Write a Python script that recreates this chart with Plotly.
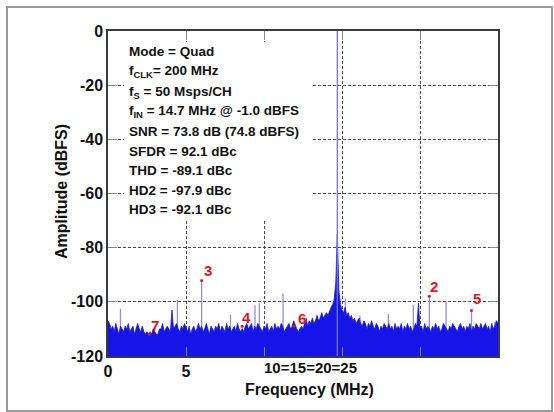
import plotly.graph_objects as go

# ---------------- data ----------------
FREQ_STEP_MHZ = 0.1
noise_db = [
    -107, -108, -110, -109, -111, -108, -110, -112, -109, -110,
    -111, -109, -110, -108, -111, -110, -109, -112, -110, -108,
    -110, -111, -109, -111, -112, -111, -112, -111, -112, -110,
    -111, -112, -112, -110, -110, -108, -111, -110, -109, -110,
    -111, -103, -110, -109, -108, -110, -111, -109, -110, -108,
    -110, -111, -109, -112, -110, -109, -111, -110, -108, -110,
    -109, -111, -110, -108, -110, -112, -109, -110, -111, -109,
    -110, -108, -111, -109, -110, -111, -108, -110, -109, -111,
    -110, -109, -111, -108, -110, -111, -110, -111, -109, -108,
    -110, -109, -108, -111, -109, -110, -108, -109, -110, -111,
    -109, -110, -108, -111, -110, -109, -111, -108, -110, -109,
    -110, -108, -109, -111, -110, -109, -108, -110, -109, -107,
    -109, -110, -111, -110, -109, -110, -108, -106, -109, -107,
    -108, -106, -108, -107, -105, -107, -106, -104, -106, -105,
    -104, -105, -103, -102, -101, -99, -93, -75, -96, -101,
    -103, -104, -102, -105, -104, -106, -105, -107, -106, -108,
    -107, -106, -108, -109, -107, -108, -110, -108, -109, -107,
    -109, -110, -108, -109, -111, -109, -110, -108, -109, -110,
    -108, -110, -109, -111, -108, -110, -109, -110, -108, -111,
    -109, -110, -108, -110, -109, -111, -110, -108, -109, -100.5,
    -110, -109, -111, -108, -110, -109, -110, -111, -109, -110,
    -108, -110, -109, -111, -110, -108, -109, -110, -111, -109,
    -110, -108, -109, -110, -111, -109, -108, -110, -109, -111,
    -109, -110, -108, -111, -109, -110, -108, -109, -110, -108,
    -110, -109, -108, -110, -109, -111, -108, -110, -109, -107,
    -108,
]
freq_mhz = [round(i * FREQ_STEP_MHZ, 2) for i in range(len(noise_db))]

spur_freq = [0.8, 4.45, 7.85, 9.42, 9.7, 11.22, 15.22, 16.15, 17.97, 19.57, 21.67, 24.8]
spur_db = [-102.5, -99.3, -104.7, -101.3, -100.5, -96.9, -98.8, -105.0, -104.5, -101.3, -100.0, -107.3]

fund_freq = 14.7
fund_db = 0.0

harm_names = ["2", "3", "4", "5", "6", "7"]
harm_freq = [20.6, 6.0, 8.6, 23.3, 11.9, 2.65]
harm_db = [-97.9, -92.1, -109.0, -103.2, -109.0, -112.0]

info_lines = [
    "Mode = Quad",
    "f<sub>CLK</sub>= 200 MHz",
    "f<sub>S</sub> = 50 Msps/CH",
    "f<sub>IN</sub> = 14.7 MHz @ -1.0 dBFS",
    "SNR = 73.8 dB (74.8 dBFS)",
    "SFDR = 92.1 dBc",
    "THD = -89.1 dBc",
    "HD2 = -97.9 dBc",
    "HD3 = -92.1 dBc",
]

y_ticks = [0, -20, -40, -60, -80, -100, -120]
y_ticktext = ["0", "-20", "-40", "-60", "-80", "-100", "-120"]
x_labeled_ticks = [0, 5]
x_ticktext = ["0", "5"]
x_unlabeled_ticks = [10, 15, 20]
x_label_garbled = "10=15=20=25"

X_MIN, X_MAX = 0, 25
Y_MIN, Y_MAX = -120, 0

# ---------------- geometry ----------------
W, H = 554, 412
L, R, T, B = 108, 498, 31, 356


def px_x(px):
    return X_MIN + (px - L) / (R - L) * (X_MAX - X_MIN)


def px_y(py):
    return Y_MAX - (py - T) / (B - T) * (Y_MAX - Y_MIN)


def paper_x(px):
    return (px - L) / (R - L)


def paper_y(py):
    return 1 - (py - T) / (B - T)


FONT = "Liberation Sans, Arial, sans-serif"
BLUE = "#1515e8"
SPUR = "#8f8fdc"
RED = "#e3151b"
GRID = "#4a4a4a"
GRID_DASH = "3px,2px"

fig = go.Figure()

# spurs and harmonics as stems
sx, sy = [], []
for f, d in zip(spur_freq, spur_db):
    sx += [f, f, None]
    sy += [Y_MIN, d, None]
for f, d in zip(harm_freq, harm_db):
    sx += [f, f, None]
    sy += [Y_MIN, d, None]
fig.add_trace(go.Scatter(x=sx, y=sy, mode="lines", line=dict(color=SPUR, width=1.3),
                         hoverinfo="skip", showlegend=False))

# noise floor (filled down to the axis floor)
fig.add_trace(go.Scatter(x=freq_mhz, y=[Y_MIN] * len(freq_mhz), mode="lines",
                         line=dict(width=0, color=BLUE), hoverinfo="skip", showlegend=False))
fig.add_trace(go.Scatter(x=freq_mhz, y=noise_db, mode="lines", fill="tonexty",
                         fillcolor=BLUE, line=dict(color=BLUE, width=0.8),
                         showlegend=False))

fig.add_trace(go.Scatter(x=[fund_freq, fund_freq], y=[Y_MIN, fund_db], mode="lines",
                         line=dict(color="#7474d8", width=1.3), showlegend=False))

# red markers at harmonic tops
fig.add_trace(go.Scatter(x=harm_freq, y=harm_db, mode="markers",
                         marker=dict(color=RED, size=3), showlegend=False))

shapes = []
# white box behind the info text
shapes.append(dict(type="rect", xref="paper", yref="paper", layer="above",
                   x0=paper_x(124), x1=paper_x(313), y0=paper_y(220), y1=paper_y(42),
                   fillcolor="white", line=dict(width=0)))
# outer frame
shapes.append(dict(type="rect", xref="paper", yref="paper", layer="above",
                   x0=paper_x(7), x1=paper_x(552), y0=paper_y(411), y1=paper_y(7),
                   line=dict(color="#9a9a9a", width=2), fillcolor="rgba(0,0,0,0)"))

annotations = []
line_y = [51.5, 71.5, 92, 111, 131.5, 151, 170.5, 190, 209.5]
for txt, py in zip(info_lines, line_y):
    annotations.append(dict(text=txt, xref="paper", yref="paper", x=paper_x(127), y=paper_y(py),
                            xanchor="left", yanchor="middle", showarrow=False,
                            font=dict(family=FONT, size=13.5, color="#111", weight="bold")))

label_px = {"3": (208, 270), "2": (434, 286), "5": (477, 298),
            "7": (155, 325), "4": (246, 317), "6": (302, 318)}
for name in harm_names:
    px, py = label_px[name]
    annotations.append(dict(text=name, x=px_x(px), y=px_y(py), xref="x", yref="y",
                            showarrow=False, xanchor="center", yanchor="middle",
                            font=dict(family=FONT, size=15, color=RED, weight="bold")))

annotations.append(dict(text=x_label_garbled, xref="paper", yref="paper", x=paper_x(310),
                        y=paper_y(367), xanchor="center", yanchor="middle", showarrow=False,
                        font=dict(family=FONT, size=15, color="#111", weight="bold")))
annotations.append(dict(text="Frequency (MHz)", xref="paper", yref="paper", x=paper_x(309),
                        y=paper_y(389), xanchor="center", yanchor="middle", showarrow=False,
                        font=dict(family=FONT, size=16, color="#111", weight="bold")))
annotations.append(dict(text="Amplitude (dBFS)", xref="paper", yref="paper", x=paper_x(62),
                        y=paper_y(192), xanchor="center", yanchor="middle", showarrow=False,
                        textangle=-90,
                        font=dict(family=FONT, size=16, color="#111", weight="bold")))

axis_common = dict(showline=True, linecolor="#3a3a3a", linewidth=1.5, mirror="ticks",
                   showgrid=True, gridcolor=GRID, gridwidth=1, griddash=GRID_DASH,
                   zeroline=False, ticks="inside", ticklen=9, tickcolor="#888888",
                   tickfont=dict(family=FONT, size=16, color="#111", weight="bold"))

fig.update_layout(
    width=W, height=H,
    margin=dict(l=L, r=W - R, t=T, b=H - B, pad=0),
    paper_bgcolor="white", plot_bgcolor="white",
    xaxis=dict(range=[X_MIN, X_MAX], tickmode="array", tickvals=x_labeled_ticks,
               ticktext=x_ticktext,
               minor=dict(tickmode="array", tickvals=x_unlabeled_ticks, showgrid=True,
                          gridcolor=GRID, gridwidth=1, griddash=GRID_DASH,
                          ticks="inside", ticklen=9, tickcolor="#888888"),
               **axis_common),
    yaxis=dict(range=[Y_MIN, Y_MAX], tickmode="array", tickvals=y_ticks, ticktext=y_ticktext,
               **axis_common),
    shapes=shapes, annotations=annotations, showlegend=False,
)

fig.write_html("out.html")
